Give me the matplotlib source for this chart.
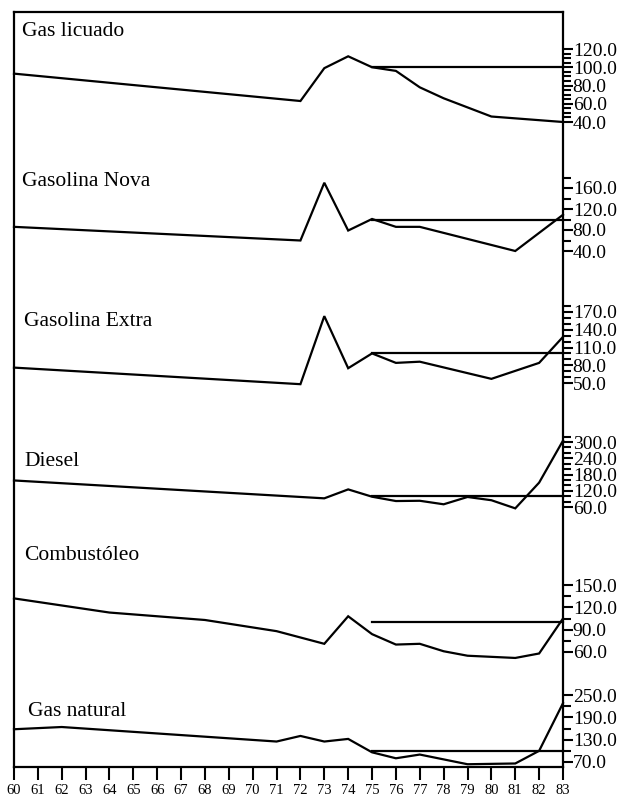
import matplotlib
matplotlib.use("Agg")
import matplotlib.pyplot as plt
from matplotlib.ticker import FixedLocator, FormatStrFormatter

# ---- data (price indices, 1960-1983) ----
years = list(range(60, 84))

licuado_x = [60, 72, 73, 74, 75, 76, 77, 78, 79, 80, 83]
licuado_y = [93, 63, 99, 112, 100, 96, 78, 66, 56, 46, 40]

nova_x = [60, 72, 73, 74, 75, 76, 77, 81, 83]
nova_y = [86, 60, 170, 79, 101, 86, 86, 40, 109]

extra_x = [60, 72, 73, 74, 75, 76, 77, 80, 82, 83]
extra_y = [76, 48, 163, 75, 100, 84, 86, 57, 84, 128]

diesel_x = [60, 73, 74, 75, 76, 77, 78, 79, 80, 81, 82, 83]
diesel_y = [158, 92, 125, 98, 82, 83, 70, 97, 85, 55, 150, 305]

combust_x = [60, 64, 68, 71, 73, 74, 75, 76, 77, 78, 79, 81, 82, 83]
combust_y = [132, 113, 103, 88, 71, 108, 84, 70, 71, 61, 55, 52, 58, 105]

natural_x = [60, 62, 71, 72, 73, 74, 75, 76, 77, 79, 81, 82, 83]
natural_y = [158, 164, 125, 140, 125, 132, 96, 80, 90, 64, 66, 100, 228]

ref_x = [75, 83]
ref_y = [100, 100]

names = ["Gas licuado", "Gasolina Nova", "Gasolina Extra", "Diesel",
         "Combustóleo", "Gas natural"]
series = [(licuado_x, licuado_y), (nova_x, nova_y), (extra_x, extra_y),
          (diesel_x, diesel_y), (combust_x, combust_y), (natural_x, natural_y)]

# labelled ticks and minor tick step for each panel's right-hand scale
label_ticks = [[40, 60, 80, 100, 120], [40, 80, 120, 160], [50, 80, 110, 140, 170],
               [60, 120, 180, 240, 300], [60, 90, 120, 150], [70, 130, 190, 250]]
minor_step = [5, 20, 10, 20, 15, 30]
minor_top = [120, 180, 180, 320, 150, 250]

# ---- layout in pixels of the 626x801 picture ----
W, H = 626, 801
L, R, T, B = 14, 563, 12, 767
# (value_hi, px_hi, value_lo, px_lo) anchors for each panel
anchors = [(120, 49, 40, 122), (160, 188, 40, 251), (170, 312, 50, 383),
           (300, 442, 60, 507), (150, 585, 60, 652), (250, 695, 70, 762)]
title_y = [32, 181, 322, 462, 556, 712]
title_x = [22, 22, 24, 24, 24, 28]

plt.rcParams['font.family'] = ['Liberation Serif', 'DejaVu Serif']

fig = plt.figure(figsize=(W / 100, H / 100), dpi=100)

frame = fig.add_axes([L / W, 1 - B / H, (R - L) / W, (B - T) / H])
frame.set_xlim(60, 83)
frame.set_ylim(0, 1)
frame.set_xticks(years)
frame.set_xticklabels([str(y) for y in years], fontsize=10.5)
frame.set_yticks([])
frame.tick_params(axis='x', direction='out', length=9, width=1.5, pad=3)
for s in frame.spines.values():
    s.set_linewidth(1.6)

for i, (name, (xs, ys)) in enumerate(zip(names, series)):
    vhi, phi, vlo, plo = anchors[i]
    b = (plo - phi) / (vhi - vlo)
    ymin = min(min(ys), vlo) - 8
    ymax = max(max(ys), minor_top[i]) + 8
    top_px = phi - (ymax - vhi) * b
    bot_px = plo + (vlo - ymin) * b
    ax = fig.add_axes([L / W, 1 - bot_px / H, (R - L) / W, (bot_px - top_px) / H])
    ax.set_facecolor('none')
    ax.set_xlim(60, 83)
    ax.set_ylim(ymin, ymax)
    for s in ax.spines.values():
        s.set_visible(False)
    ax.set_xticks([])
    ax.plot(xs, ys, color='black', lw=1.6, solid_joinstyle='miter', clip_on=False)
    ax.plot(ref_x, ref_y, color='black', lw=1.6, clip_on=False)
    ax.yaxis.tick_right()
    ax.yaxis.set_major_locator(FixedLocator(label_ticks[i]))
    ax.yaxis.set_major_formatter(FormatStrFormatter('%.1f'))
    minors = list(range(label_ticks[i][0], minor_top[i] + 1, minor_step[i]))
    ax.yaxis.set_minor_locator(FixedLocator(minors))
    ax.tick_params(axis='y', which='major', direction='out', length=7, width=1.5,
                   pad=0, labelsize=14)
    ax.tick_params(axis='y', which='minor', direction='out', length=6, width=1.5)
    fig.text(title_x[i] / W, 1 - title_y[i] / H, name, fontsize=15.5,
             va='center', ha='left')

fig.savefig("out.png", dpi=100)
